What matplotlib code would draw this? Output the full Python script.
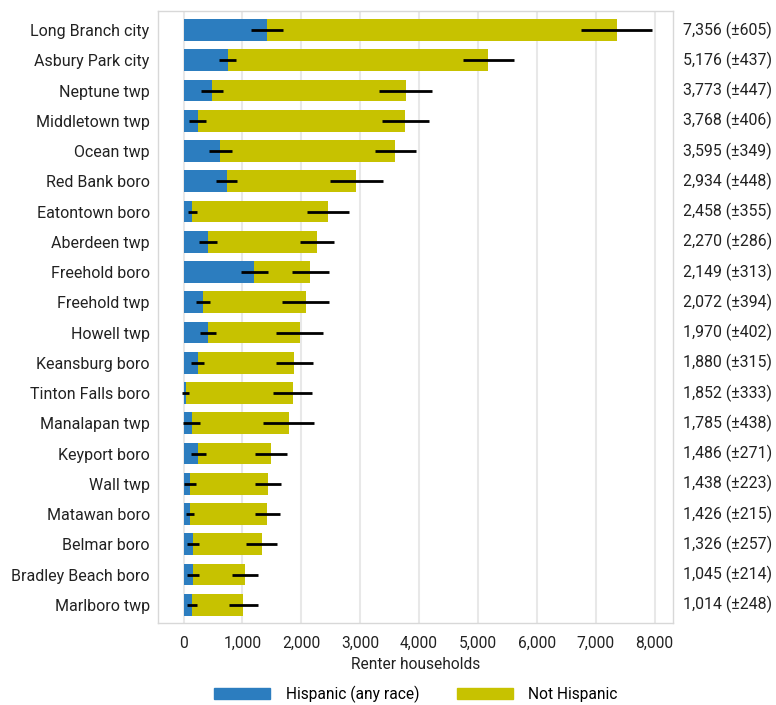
import matplotlib
matplotlib.use("Agg")
import matplotlib.pyplot as plt
from matplotlib.patches import Patch
import numpy as np

plt.rcParams['font.family'] = ['Roboto', 'DejaVu Sans']

places = ["Long Branch city", "Asbury Park city", "Neptune twp", "Middletown twp",
          "Ocean twp", "Red Bank boro", "Eatontown boro", "Aberdeen twp",
          "Freehold boro", "Freehold twp", "Howell twp", "Keansburg boro",
          "Tinton Falls boro", "Manalapan twp", "Keyport boro", "Wall twp",
          "Matawan boro", "Belmar boro", "Bradley Beach boro", "Marlboro twp"]
totals = [7356, 5176, 3773, 3768, 3595, 2934, 2458, 2270, 2149, 2072,
          1970, 1880, 1852, 1785, 1486, 1438, 1426, 1326, 1045, 1014]
totals_moe = [605, 437, 447, 406, 349, 448, 355, 286, 313, 394,
              402, 315, 333, 438, 271, 223, 215, 257, 214, 248]
hispanic = [1417, 750, 484, 240, 620, 733, 150, 416, 1202, 337,
            411, 240, 37, 139, 251, 110, 110, 156, 167, 150]
hispanic_moe = [270, 140, 180, 150, 195, 175, 76, 145, 230, 120,
                136, 113, 62, 147, 130, 105, 65, 100, 100, 85]
xticks = [0, 1000, 2000, 3000, 4000, 5000, 6000, 7000, 8000]

blue = '#2c7dbf'
yellow = '#c7c200'

fig = plt.figure(figsize=(7.76, 7.05), dpi=100)
ax = fig.add_axes([158/776, 1-623/705, (673-158)/776, (623-11)/705])

y = np.arange(len(places))
tot = np.array(totals)
his = np.array(hispanic)
non = tot - his

ax.barh(y, his, height=0.72, color=blue, zorder=2)
ax.barh(y, non, left=his, height=0.72, color=yellow, zorder=2)
ax.errorbar(his, y, xerr=hispanic_moe, fmt='none', ecolor='black', elinewidth=2, capsize=0, zorder=3)
ax.errorbar(tot, y, xerr=totals_moe, fmt='none', ecolor='black', elinewidth=2, capsize=0, zorder=3)

for yi, t, m in zip(y, totals, totals_moe):
    ax.text(1.019, yi, f"{t:,} (\u00b1{m})", transform=ax.get_yaxis_transform(),
            ha='left', va='center', fontsize=11.4, color='#222222')

ax.set_xlim(-433, 8311)
ax.set_ylim(len(places) - 1 + 0.6, -0.63)
ax.set_yticks(y)
ax.set_yticklabels(places, fontsize=11.5, color='#222222')
ax.set_xticks(xticks)
ax.set_xticklabels([f"{v:,}" for v in xticks], fontsize=11.2, color='#222222')
ax.tick_params(length=0, pad=6)
ax.tick_params(axis='x', pad=9)
ax.grid(axis='x', color='#e8e8e8', linewidth=1.5, zorder=0)
ax.set_axisbelow(True)
for s in ax.spines.values():
    s.set_color('#d8d8d8')
    s.set_linewidth(1)
ax.set_xlabel("Renter households", fontsize=11.2, color='#222222', labelpad=5)

handles = [Patch(color=blue, label="Hispanic (any race)"),
           Patch(color=yellow, label="Not Hispanic")]
fig.legend(handles=handles, loc='center', bbox_to_anchor=(416/776, 1-694/705), ncol=2,
           frameon=False, fontsize=11.2, handlelength=3.6, handleheight=0.75,
           columnspacing=2.4, handletextpad=1.0)

fig.savefig("out.png", dpi=100)
